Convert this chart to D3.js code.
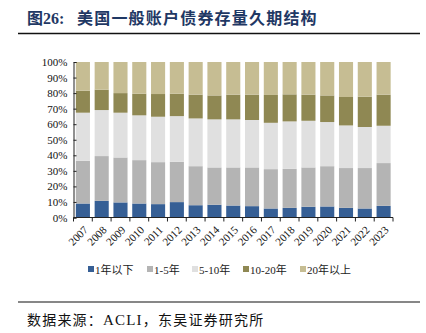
<!DOCTYPE html>
<html><head><meta charset="utf-8">
<script src="https://cdn.jsdelivr.net/npm/d3@7"></script>
<style>body{margin:0;background:#fff}svg{display:block}</style>
</head><body>
<script>
const years = ["2007","2008","2009","2010","2011","2012","2013","2014","2015","2016","2017","2018","2019","2020","2021","2022","2023"];
const seriesNames = ["1年以下","1-5年","5-10年","10-20年","20年以上"];
const below1 = [9.0,10.7,9.7,9.0,8.6,9.9,7.9,8.2,7.7,7.3,5.8,6.2,6.9,7.1,6.2,5.8,7.5];
const y1to5 = [27.5,28.8,28.9,27.9,27.0,25.9,25.1,24.0,24.5,24.9,25.3,25.1,25.3,25.9,25.6,26.0,27.5];
const y5to10 = [30.9,29.6,28.8,28.8,29.2,29.4,30.7,30.9,30.9,30.5,29.8,30.5,30.0,28.4,27.4,26.4,24.0];
const y10to20 = [14.1,13.1,12.6,13.9,14.6,14.4,15.3,15.4,15.9,16.3,17.9,17.4,16.8,17.1,18.3,19.5,20.0];
const above20 = [18.5,17.8,20.0,20.4,20.6,20.4,21.0,21.5,21.0,21.0,21.2,20.8,21.0,21.5,22.5,22.3,21.0];
const yTicks = [0,10,20,30,40,50,60,70,80,90,100];
const colors = ["#365f95","#b4b4b4","#e0e0e0","#8f8853","#c6bd93"];

const W = 426, H = 333;
const svg = d3.select("body").append("svg").attr("width", W).attr("height", H);
const serif = "'Liberation Serif','Times New Roman','Noto Sans CJK SC',serif";

// Title
svg.append("text").attr("x", 27).attr("y", 24)
  .attr("font-family", "'Liberation Serif','Noto Sans CJK SC',serif")
  .attr("font-weight", "bold").attr("font-size", 16).attr("fill", "#1f3864")
  .text("图26:");
svg.append("text").attr("x", 77).attr("y", 24)
  .attr("font-family", "'Noto Sans CJK SC',serif")
  .attr("font-weight", "bold").attr("font-size", 16).attr("letter-spacing", 1.2).attr("fill", "#1f3864")
  .text("美国一般账户债券存量久期结构");
svg.append("line").attr("x1", 18).attr("x2", 420).attr("y1", 33.5).attr("y2", 33.5)
  .attr("stroke", "#111").attr("stroke-width", 1.5);

const x = d3.scaleBand().domain(years).range([73.5, 393]).paddingInner(0.25).paddingOuter(0.125);
const y = d3.scaleLinear().domain([0, 100]).range([217.5, 62]);

const rows = years.map((yr, i) => ({year: yr, s0: below1[i], s1: y1to5[i], s2: y5to10[i], s3: y10to20[i], s4: above20[i]}));
const stack = d3.stack().keys(["s0","s1","s2","s3","s4"])(rows);

svg.append("g").selectAll("g").data(stack).join("g")
  .attr("fill", (d, i) => colors[i])
  .selectAll("rect").data(d => d).join("rect")
  .attr("x", d => x(d.data.year))
  .attr("width", x.bandwidth())
  .attr("y", d => y(d[1]))
  .attr("height", d => y(d[0]) - y(d[1]));

// Y axis
const yAxis = svg.append("g").attr("transform", "translate(73.5,0)")
  .call(d3.axisLeft(y).tickValues(yTicks).tickFormat(d => d + "%").tickSize(-3).tickPadding(6));
yAxis.select(".domain").attr("stroke", "#222");
yAxis.selectAll(".tick line").attr("stroke", "#222");
yAxis.selectAll("text").attr("font-family", serif).attr("font-size", 11).attr("fill", "#111");

// X axis
const xa = svg.append("g");
xa.append("line").attr("x1", 73.5).attr("x2", 393).attr("y1", 217.5).attr("y2", 217.5).attr("stroke", "#222");
xa.selectAll("line.tk").data(d3.range(years.length + 1)).join("line").attr("class", "tk")
  .attr("x1", i => 73.5 + i * x.step())
  .attr("x2", i => 73.5 + i * x.step())
  .attr("y1", 217.5).attr("y2", 221.5).attr("stroke", "#222");
xa.selectAll("text").data(years).join("text")
  .attr("transform", d => `translate(${x(d) + x.bandwidth() / 2 + 1},${226}) rotate(-45)`)
  .attr("text-anchor", "end").attr("dy", "0.6em")
  .attr("font-family", serif).attr("font-size", 11).attr("fill", "#111")
  .text(d => d);

// Legend
const legX = [88, 147, 192, 243, 300];
const lg = svg.append("g");
seriesNames.forEach((n, i) => {
  lg.append("rect").attr("x", legX[i]).attr("y", 266).attr("width", 6).attr("height", 6).attr("fill", colors[i]);
  lg.append("text").attr("x", legX[i] + 7).attr("y", 273.5)
    .attr("font-family", serif).attr("font-size", 11).attr("fill", "#222").text(n);
});

// Footer
svg.append("line").attr("x1", 18).attr("x2", 420).attr("y1", 302).attr("y2", 302)
  .attr("stroke", "#111").attr("stroke-width", 1.2);
const ft = svg.append("text").attr("x", 27).attr("y", 325)
  .attr("font-family", "'Noto Sans CJK SC','Liberation Serif',serif")
  .attr("font-size", 14).attr("letter-spacing", 1.2).attr("fill", "#111");
ft.append("tspan").text("数据来源：");
ft.append("tspan").attr("font-family", "'Liberation Serif',serif").attr("font-size", 15).text("ACLI");
ft.append("tspan").text("，东吴证券研究所");
</script>
</body></html>
